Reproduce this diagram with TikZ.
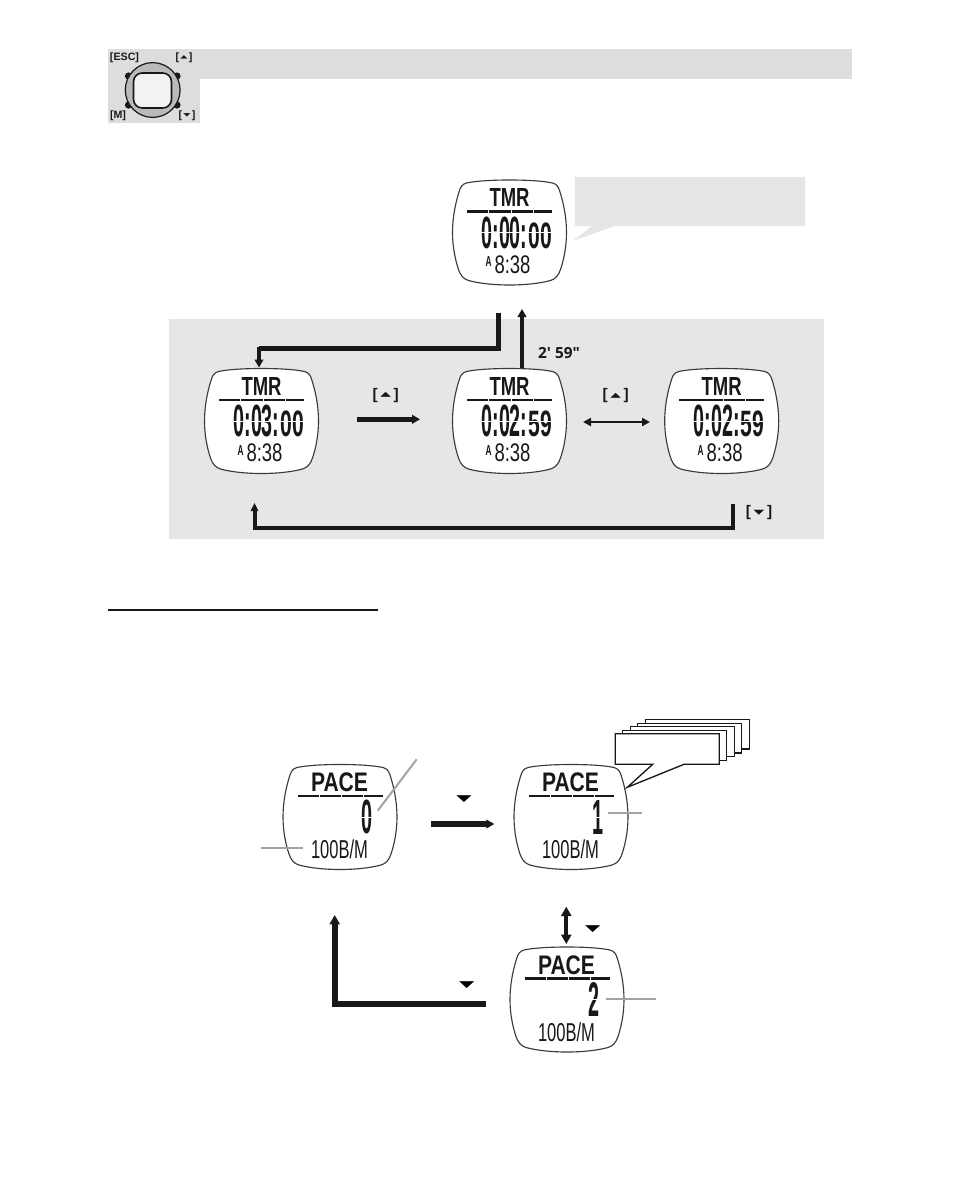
\documentclass[tikz,border=0pt]{standalone}
\usepackage{fontspec}
\usepackage{graphicx}
\usetikzlibrary{arrows.meta}
\setmainfont{Liberation Sans}
\newfontfamily\lcdfont{Liberation Sans}
\newfontfamily\djfont{DejaVu Sans}
\newfontfamily\labfont{Open Sans}
\definecolor{bandgray}{HTML}{DCDDDE}
\definecolor{panelgray}{HTML}{E6E6E6}
\definecolor{leadgray}{HTML}{A3A3A3}
\definecolor{ringgray}{HTML}{B9BABC}
\definecolor{facegray}{HTML}{F2F2F2}
\definecolor{inkblack}{HTML}{1A1718}
\newcommand{\glyphbox}[3]{\resizebox*{#1}{#2}{\djfont #3}}
\newcommand{\upkey}{{\bfseries[\kern2pt\raisebox{2.2pt}{\glyphbox{8pt}{3.8pt}{▲}}\kern2pt]}}
\newcommand{\dnkey}{{\bfseries[\kern2pt\raisebox{2.2pt}{\glyphbox{8pt}{3.8pt}{▼}}\kern2pt]}}
% name, x1, x2, y1, y2, text, in px relative to the watch centre
\newcommand{\lcdtxt}[6]{%
  \pgfmathsetmacro\lcdW{(#3-(#2))*0.75}%
  \pgfmathsetmacro\lcdH{(#5-(#4))*0.75}%
  \pgfmathsetmacro\lcdX{(#3+(#2))/2}%
  \pgfmathsetmacro\lcdY{(#5+(#4))/2}%
  \node[lcdnode] (#1) at (\lcdX,\lcdY) {\resizebox*{\lcdW pt}{\lcdH pt}{#6}};}
\newcommand{\watch}[4]{%
  \node[wbox] (#1) at (#2,#3) {};
  \begin{scope}[shift={(#2,#3)}]
  \draw[wline] (0,-52.5) .. controls (-18,-52.5) and (-34,-51.5) .. (-43,-49.5)
    .. controls (-47,-48.5) and (-49,-45.5) .. (-50,-42)
    .. controls (-54,-30) and (-57,-15) .. (-57,0)
    .. controls (-57,15) and (-54,28) .. (-51,37)
    .. controls (-49,43) and (-46,46.5) .. (-41,48)
    .. controls (-30,51) and (-15,52.5) .. (0,52.5)
    .. controls (15,52.5) and (30,51) .. (41,48)
    .. controls (46,46.5) and (49,43) .. (51,37)
    .. controls (54,28) and (57,15) .. (57,0)
    .. controls (57,-15) and (54,-30) .. (50,-42)
    .. controls (49,-45.5) and (47,-48.5) .. (43,-49.5)
    .. controls (34,-51.5) and (18,-52.5) .. (0,-52.5) -- cycle;
  #4
  \end{scope}}
\newcommand{\tmrface}[5]{% name, h:mm: text, seconds, small time, A text
  \lcdtxt{#1-title}{-20}{20}{-44}{-26}{\lcdfont\bfseries TMR}
  \draw[lcdrule] (-42.5,-21) -- (42.5,-21);
  \lcdtxt{#1-time}{-28}{18}{-16}{16}{\lcdfont\bfseries #2}
  \lcdtxt{#1-sec}{19}{42.5}{-10}{16}{\lcdfont\bfseries #3}
  \draw[lcdgap] (-29,0) -- (43,0);
  \lcdtxt{#1-am}{-24}{-18}{24}{34}{\lcdfont\bfseries #5}
  \lcdtxt{#1-clock}{-15}{21}{23}{41}{\lcdfont #4}}
\newcommand{\paceface}[2]{% name, digit
  \lcdtxt{#1-title}{-29}{28}{-44}{-25}{\lcdfont\bfseries PACE}
  \draw[lcdrule] (-42.5,-21) -- (42.5,-21);
  \lcdtxt{#1-val}{21}{32}{-17}{17}{\lcdfont\bfseries #2}
  \draw[lcdgap] (20,0) -- (33,0);
  \lcdtxt{#1-unit}{-29}{28}{23}{42}{\lcdfont 100B/M}}
\tikzset{
  x=0.75pt, y=-0.75pt,
  lcdnode/.style={inner sep=0pt, outer sep=0pt, text=inkblack},
  wbox/.style={inner sep=0pt, minimum width=85.5pt, minimum height=78.75pt},
  wline/.style={draw=inkblack!85!white, fill=white, line width=0.85pt},
  lcdrule/.style={draw=inkblack, line width=1.8pt, dash pattern=on 16pt off 0.7pt},
  lcdgap/.style={draw=white, line width=0.5pt},
  thickarrow/.style={draw=inkblack, line width=#1, -{Triangle[length=6pt,width=6.5pt]}},
  fatline/.style={draw=inkblack, line width=#1, line join=miter},
  lead/.style={draw=leadgray, line width=1.5pt},
  keylabel/.style={inner sep=0pt, font=\fontsize{11.5}{13}\selectfont, text=inkblack},
  iconlabel/.style={inner sep=0pt, font=\fontsize{8}{9}\selectfont\bfseries, text=inkblack},
  tri/.style={inner sep=0pt, text=black},
  stackcard/.style={draw=inkblack, fill=white, line width=1pt, line join=miter},
}
\begin{document}
\begin{tikzpicture}
\useasboundingbox (0,0) rectangle (954,1197);
% header band and icon
\fill[bandgray] (108,49) rectangle (852,79);
\fill[bandgray] (108,49) rectangle (200,123);
\fill[inkblack] (128.5,76) circle [radius=3.6];
\fill[inkblack] (177,76) circle [radius=3.6];
\fill[inkblack] (128.5,105) circle [radius=3.6];
\fill[inkblack] (177,105) circle [radius=3.6];
\draw[draw=inkblack, fill=ringgray, line width=0.9pt] (152.7,90) circle [radius=27.4];
\draw[draw=inkblack, fill=facegray, line width=1.2pt, rounded corners=6.5pt] (133.5,73) rectangle (171.5,108);
\node[iconlabel] (kesc) at (124.5,57.5) {[ESC]};
\node[iconlabel] (kup) at (184,58) {[\kern1pt\raisebox{1.6pt}{\glyphbox{5.4pt}{2.6pt}{▲}}\kern1pt]};
\node[iconlabel] (km) at (118,115.5) {[M]};
\node[iconlabel] (kdn) at (187,115.5) {[\kern1pt\raisebox{1.6pt}{\glyphbox{5.4pt}{2.6pt}{▼}}\kern1pt]};
% panel and callout
\fill[panelgray] (169,319) rectangle (824,539);
\fill[panelgray] (575,177) -- (805,177) -- (805,226) -- (615,226) -- (572.7,241) -- (592,226) -- (575,226) -- cycle;
% watches of the timer
\watch{w1}{509.5}{232.5}{\tmrface{w1}{0:00:}{00}{8:38}{A}}
\watch{w2}{261.5}{421}{\tmrface{w2}{0:03:}{00}{8:38}{A}}
\watch{w3}{509.5}{421}{\tmrface{w3}{0:02:}{59}{8:38}{A}}
\watch{w4}{721.7}{421}{\tmrface{w4}{0:02:}{59}{8:38}{A}}
% timer connectors
\coordinate (a1s) at (498.5,313);
\coordinate (a1b) at (498.5,348.5);
\coordinate (a1c) at (259,348.5);
\coordinate (a1t) at (259,367.5);
\draw[fatline=4.2pt] (a1s) -- (a1b) -- (a1c);
\draw[thickarrow=2.8pt] ([yshift=1.5pt]a1c) -- (a1t);
\coordinate (upt) at (522,309);
\draw[thickarrow=3.4pt] (upt |- w3.north) -- (upt);
\node[inner sep=0pt, font=\labfont\fontsize{11.5}{13}\selectfont\bfseries, text=inkblack] (t259) at (559,353) {2' 59"};
\coordinate (r1s) at (356.7,419.3);
\coordinate (r1e) at (420,419.3);
\draw[thickarrow=4pt] (r1s) -- (r1e);
\node[keylabel] (k1) at (385.7,395.5) {\upkey};
\coordinate (r2s) at (583,422);
\coordinate (r2e) at (650,422);
\draw[draw=inkblack, line width=1.8pt, {Triangle[length=6pt,width=6pt]}-{Triangle[length=6pt,width=6pt]}] (r2s) -- (r2e);
\node[keylabel] (k2) at (615.7,396) {\upkey};
\coordinate (b1s) at (732.5,504);
\coordinate (b1b) at (732.5,527.5);
\coordinate (b1c) at (254.5,527.5);
\coordinate (b1t) at (254.5,503);
\draw[draw=inkblack, line width=3pt, line join=miter, -{Triangle[length=6pt,width=5.5pt]}] (b1s) -- (b1b) -- (b1c) -- (b1t);
\node[keylabel] (k3) at (759,513) {\dnkey};
% section rule
\coordinate (rl) at (108,610);
\coordinate (rr) at (378,610);
\draw[draw=inkblack, line width=1.5pt] (rl) -- (rr);
% stacked callouts
\foreach \i in {4,3,2,1} {
  \path[stackcard] ({615.3+7.5*\i},{733.7-3.5*\i}) rectangle ({719.3+7.5*\i},{764.3-3.8*\i});
}
% pace watches
\watch{p1}{340}{817}{\paceface{p1}{0}}
\watch{p2}{571}{817}{\paceface{p2}{1}}
\watch{p3}{567}{999.5}{\paceface{p3}{2}}
\path[stackcard] (615.3,733.7) -- (719.3,733.7) -- (719.3,764.3) -- (684,764.3) -- (627.3,787.3) -- (652.7,764.3) -- (615.3,764.3) -- cycle;
% leaders
\draw[lead] (377.7,810.7) -- (416.7,759.3);
\draw[lead] (261,847.7) -- (302.7,847.7);
\draw[lead] (608.3,813) -- (641.7,813);
\draw[lead] (606,999.3) -- (656,999.3);
% pace connectors
\coordinate (q1s) at (431,824);
\coordinate (q1e) at (494.3,824);
\draw[thickarrow=4.4pt] (q1s) -- (q1e);
\node[tri] (tr1) at (464,799.3) {\glyphbox{11.5pt}{5.2pt}{▼}};
\coordinate (q2s) at (566.3,906.7);
\coordinate (q2e) at (566.3,944);
\draw[draw=inkblack, line width=3pt, {Triangle[length=7pt,width=7.5pt]}-{Triangle[length=7pt,width=7.5pt]}] (q2s) -- (q2e);
\node[tri] (tr2) at (592.7,929) {\glyphbox{11.5pt}{5.2pt}{▼}};
\coordinate (q3s) at (486,1004);
\coordinate (q3b) at (334.7,1004);
\coordinate (q3t) at (334.7,915);
\draw[draw=inkblack, line width=4.2pt, line join=miter, -{Triangle[length=7pt,width=7.5pt]}] (q3s) -- (q3b) -- (q3t);
\node[tri] (tr3) at (466.7,985) {\glyphbox{11.5pt}{5.2pt}{▼}};
\end{tikzpicture}
\end{document}
